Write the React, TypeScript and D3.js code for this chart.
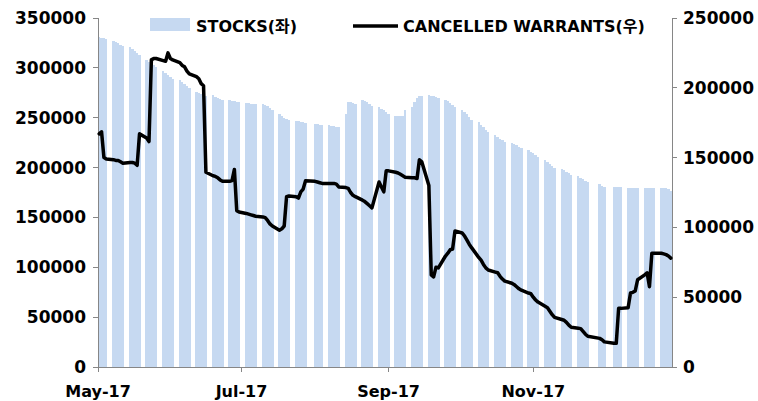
import React from 'react';
import * as d3 from 'd3';

// business days shown on the chart (weekdays May-Dec 2017, minus days with no data)
const firstDay = '2017-05-01';
const lastDay = '2017-12-29';
const missingDays = ['2017-05-01', '2017-07-31', '2017-11-27', '2017-11-28', '2017-12-04'];

// STOCKS (left axis), one value per business day, one row per week
const stocks = [
  331000, 330000, 330000, 329000,
  327000, 326000, 325000, 323000, 322000,
  321000, 319000, 317000, 315000, 313000,
  308000, 306000, 305000, 303000, 301000,
  297000, 295000, 293000, 291000, 289000,
  288000, 286000, 284000, 282000, 280000,
  276000, 275000, 274000, 273000, 272000,
  273000, 271000, 270000, 269000, 268000,
  268000, 267000, 267000, 266000, 266000,
  265000, 265000, 264000, 264000, 264000,
  264000, 263000, 262000, 260000, 258000,
  254000, 252000, 250000, 249000, 248000,
  247000, 247000, 246000, 246000, 245000,
  244000, 244000, 243000, 243000,
  243000, 242000, 242000, 241000, 241000,
  254000, 266000, 266000, 265000, 264000,
  268000, 267000, 266000, 264000, 262000,
  261000, 259000, 258000, 256000, 254000,
  252000, 252000, 252000, 252000, 258000,
  261000, 266000, 270000, 272000, 272000,
  273000, 272000, 272000, 271000, 270000,
  268000, 267000, 265000, 263000, 261000,
  258000, 256000, 254000, 251000, 248000,
  246000, 243000, 241000, 238000, 236000,
  233000, 231000, 229000, 228000, 226000,
  225000, 224000, 223000, 221000, 220000,
  218000, 216000, 215000, 213000, 211000,
  208000, 206000, 204000, 202000, 200000,
  199000, 198000, 196000, 195000, 193000,
  192000, 190000, 189000, 187000, 186000,
  184000, 182000, 181000,
  181000, 181000, 181000, 181000,
  180000, 180000, 180000, 180000, 180000,
  180000, 180000, 180000, 180000, 180000,
  180000, 180000, 180000, 179000, 177000,
];

// CANCELLED WARRANTS (right axis)
const warrants = [
  167000, 168500, 150000, 149000,
  148500, 148000, 148000, 147000, 146000,
  146500, 146500, 146000, 144500, 167000,
  164000, 161500, 220000, 221000, 221000,
  219500, 219000, 225000, 221000, 220000,
  218000, 216000, 215000, 212000, 210000,
  208000, 206500, 203000, 201500, 139500,
  137000, 136500, 135500, 134000, 133000,
  133000, 133500, 141500, 112000, 111000,
  110000, 109500, 109000, 108500, 108000,
  107500, 107000, 105000, 102500, 101000,
  98000, 99000, 101000, 122000, 122500,
  122000, 121000, 125500, 127500, 133500,
  133000, 132500, 132000, 131500,
  131500, 131500, 131500, 131000, 129000,
  128500, 128000, 125000, 123000, 122000,
  119500, 118500, 117000, 115500, 114000,
  132500, 129000, 125500, 140500, 140500,
  139500, 139000, 138000, 137000, 136000,
  135500, 135500, 135000, 148500, 147000,
  130000, 66000, 64500, 71500, 71000,
  79500, 81500, 84000, 84500, 97500,
  96000, 94000, 91000, 88000, 85500,
  78500, 76500, 73500, 71000, 69500,
  68000, 67500, 65000, 63000, 61500,
  60000, 59000, 57500, 56000, 55000,
  53000, 52500, 50000, 48000, 46500,
  43500, 42500, 40000, 37500, 35500,
  34000, 33500, 32000, 30000, 28500,
  27800, 27500, 25500, 23500, 22000,
  20500, 19500, 18000,
  17000, 17000, 42000, 42000,
  42500, 53000, 53500, 54500, 62500,
  66000, 67500, 57500, 81500, 81500,
  81500, 81000, 80500, 79500, 78000,
];

const leftTicks = [0, 50000, 100000, 150000, 200000, 250000, 300000, 350000];
const rightTicks = [0, 50000, 100000, 150000, 200000, 250000];
const monthTicks = ['2017-07-01', '2017-09-01', '2017-11-01'];
const seriesNames = ['STOCKS(좌)', 'CANCELLED WARRANTS(우)'];

const parse = d3.timeParse('%Y-%m-%d');
const fmt = d3.timeFormat('%Y-%m-%d');

const W = 758;
const H = 401;
const margin = { top: 18, right: 86, bottom: 34, left: 98 };
const font = '"DejaVu Sans", "Noto Sans CJK KR", sans-serif';
const axisColor = '#868686';
const barColor = '#c6d9f1';

export default function App() {
  const skip = new Set(missingDays);
  const days = d3.timeDay
    .range(parse(firstDay)!, d3.timeDay.offset(parse(lastDay)!, 1))
    .filter(d => d.getDay() !== 0 && d.getDay() !== 6 && !skip.has(fmt(d)));

  const data = days.map((d, i) => ({ date: d, stock: stocks[i], cw: warrants[i] }));

  const x0 = d3.timeHour.offset(parse(firstDay)!, 12);
  const x1 = d3.timeHour.offset(parse(lastDay)!, 12);
  const x = d3.scaleTime().domain([x0, x1]).range([margin.left, W - margin.right]);
  const yL = d3.scaleLinear().domain([0, 350000]).range([H - margin.bottom, margin.top]);
  const yR = d3.scaleLinear().domain([0, 250000]).range([H - margin.bottom, margin.top]);

  const [xa, xb] = x.range();
  const bottom = yL(0);

  const line = d3.line<typeof data[0]>()
    .x(d => x(d.date))
    .y(d => yR(d.cw));

  const xTicks = [x0, ...monthTicks.map(t => parse(t)!)];
  const tickFmt = d3.timeFormat('%b-%y');

  return (
    <svg width={W} height={H} style={{ position: 'absolute', left: 0, top: 0, background: '#fff' }}
      fontFamily={font} fontWeight="bold" fontSize={16}>
      <defs>
        <clipPath id="plot">
          <rect x={xa} y={margin.top} width={xb - xa} height={bottom - margin.top} />
        </clipPath>
      </defs>

      <g clipPath="url(#plot)">
        {data.map((d, i) => {
          const a = x(d3.timeHour.offset(d.date, -12));
          const b = x(d3.timeHour.offset(d.date, 12));
          return (
            <rect key={i} x={a} y={yL(d.stock)} width={b - a} height={bottom - yL(d.stock)}
              fill={barColor} shapeRendering="crispEdges" />
          );
        })}
      </g>

      {/* axes */}
      <g stroke={axisColor} strokeWidth={1} shapeRendering="crispEdges">
        <line x1={xa} x2={xa} y1={margin.top} y2={bottom} />
        <line x1={xb} x2={xb} y1={margin.top} y2={bottom} />
        <line x1={xa} x2={xb} y1={bottom} y2={bottom} />
        {leftTicks.map(t => <line key={'l' + t} x1={xa - 5} x2={xa} y1={yL(t)} y2={yL(t)} />)}
        {rightTicks.map(t => <line key={'r' + t} x1={xb} x2={xb + 5} y1={yR(t)} y2={yR(t)} />)}
        {xTicks.map((t, i) => <line key={'x' + i} x1={x(t)} x2={x(t)} y1={bottom} y2={bottom + 5} />)}
      </g>

      <path d={line(data) ?? ''} fill="none" stroke="#000" strokeWidth={3.5}
        strokeLinejoin="round" strokeLinecap="round" />

      <g fill="#000">
        {leftTicks.map(t => (
          <text key={'lt' + t} x={xa - 12} y={yL(t)} dy="0.35em" textAnchor="end" fontSize={17}>{t}</text>
        ))}
        {rightTicks.map(t => (
          <text key={'rt' + t} x={xb + 11} y={yR(t)} dy="0.35em" textAnchor="start" fontSize={17}>{t}</text>
        ))}
        {xTicks.map((t, i) => (
          <text key={'xt' + i} x={x(t)} y={bottom + 30} textAnchor="middle">{tickFmt(t)}</text>
        ))}
      </g>

      {/* legend */}
      <g>
        <rect x={150} y={18} width={40} height={13} fill={barColor} />
        <text x={196} y={32}>{seriesNames[0]}</text>
        <line x1={353} x2={398} y1={26} y2={26} stroke="#000" strokeWidth={3.5} />
        <text x={403} y={32}>{seriesNames[1]}</text>
      </g>
    </svg>
  );
}
